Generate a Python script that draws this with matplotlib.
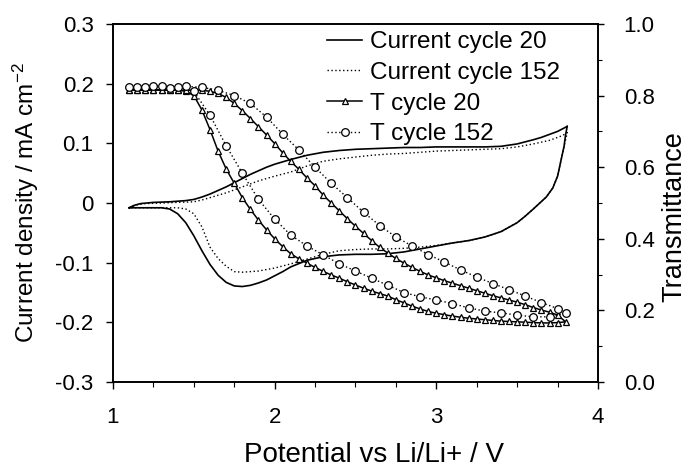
import matplotlib
matplotlib.use('Agg')
import matplotlib.pyplot as plt
from matplotlib.ticker import MultipleLocator, FixedLocator, FixedFormatter

plt.rcParams['font.family'] = ['Liberation Sans', 'DejaVu Sans']
plt.rcParams['axes.unicode_minus'] = False
plt.rcParams['mathtext.fontset'] = 'custom'
plt.rcParams['mathtext.rm'] = 'Liberation Sans'
plt.rcParams['mathtext.default'] = 'regular'

# ---------------- data ----------------
# Current density, cycle 20 (solid loop: anodic then cathodic)
cur20_v = [1.10, 1.13, 1.17, 1.25, 1.35, 1.45, 1.50, 1.55, 1.60, 1.65, 1.70, 1.75, 1.80, 1.85,
           1.90, 1.95, 2.00, 2.10, 2.20, 2.30, 2.40, 2.50, 2.60, 2.70, 2.80, 2.90, 3.00, 3.10,
           3.20, 3.30, 3.40, 3.50, 3.60, 3.65, 3.70, 3.75, 3.80, 3.81,
           3.80, 3.79, 3.77, 3.75, 3.72, 3.68, 3.64, 3.60, 3.55, 3.50, 3.40, 3.30, 3.20, 3.10,
           3.00, 2.90, 2.80, 2.70, 2.60, 2.50, 2.40, 2.30, 2.20, 2.10, 2.05, 2.00, 1.95, 1.90,
           1.85, 1.80, 1.75, 1.70, 1.65, 1.60, 1.55, 1.50, 1.45, 1.40, 1.35, 1.30, 1.20, 1.10]
cur20_i = [-0.008, -0.004, -0.001, 0.001, 0.002, 0.004, 0.006, 0.010, 0.015, 0.021, 0.027, 0.034, 0.041, 0.048,
           0.054, 0.060, 0.065, 0.073, 0.080, 0.085, 0.088, 0.090, 0.091, 0.092, 0.093, 0.093, 0.094, 0.094,
           0.094, 0.094, 0.095, 0.099, 0.106, 0.110, 0.115, 0.120, 0.127, 0.129,
           0.115, 0.095, 0.070, 0.045, 0.025, 0.010, 0.000, -0.010, -0.022, -0.033, -0.048, -0.057, -0.063, -0.067,
           -0.072, -0.077, -0.082, -0.085, -0.086, -0.086, -0.087, -0.090, -0.096, -0.107, -0.115, -0.122, -0.129, -0.134,
           -0.138, -0.140, -0.139, -0.133, -0.121, -0.103, -0.080, -0.055, -0.033, -0.018, -0.010, -0.008, -0.008, -0.008]

# Current density, cycle 152 (dotted loop)
cur152_v = [1.10, 1.15, 1.20, 1.30, 1.40, 1.50, 1.55, 1.60, 1.70, 1.80, 1.90, 2.00, 2.10, 2.20,
            2.30, 2.40, 2.50, 2.60, 2.70, 2.80, 2.90, 3.00, 3.10, 3.20, 3.30, 3.40, 3.50, 3.60,
            3.70, 3.78, 3.81,
            3.79, 3.77, 3.75, 3.72, 3.68, 3.64, 3.60, 3.55, 3.50, 3.40, 3.30, 3.20, 3.10, 3.00,
            2.90, 2.80, 2.70, 2.60, 2.50, 2.40, 2.30, 2.20, 2.10, 2.00, 1.90, 1.80, 1.75, 1.70,
            1.65, 1.60, 1.55, 1.50, 1.45, 1.40, 1.30, 1.20, 1.10]
cur152_i = [-0.008, -0.003, -0.001, 0.000, 0.001, 0.002, 0.005, 0.009, 0.017, 0.027, 0.037, 0.045, 0.052, 0.062,
            0.070, 0.074, 0.077, 0.080, 0.082, 0.083, 0.085, 0.087, 0.088, 0.089, 0.090, 0.091, 0.094, 0.099,
            0.105, 0.113, 0.118,
            0.095, 0.070, 0.045, 0.025, 0.010, 0.000, -0.010, -0.022, -0.033, -0.048, -0.057, -0.063, -0.067, -0.071,
            -0.074, -0.076, -0.077, -0.077, -0.078, -0.080, -0.086, -0.094, -0.102, -0.109, -0.114, -0.116, -0.115, -0.106,
            -0.093, -0.074, -0.040, -0.018, -0.010, -0.008, -0.008, -0.008, -0.008]

# Transmittance, cycle 20 (triangles)
t20_v = [1.10, 1.15, 1.20, 1.25, 1.30, 1.35, 1.40, 1.45, 1.50, 1.55, 1.60, 1.65, 1.70, 1.75,
         1.80, 1.85, 1.90, 1.95, 2.00, 2.05, 2.10, 2.15, 2.20, 2.25, 2.30, 2.35, 2.40, 2.45,
         2.50, 2.55, 2.60, 2.65, 2.70, 2.75, 2.80, 2.85, 2.90, 2.95, 3.00, 3.05, 3.10, 3.15,
         3.20, 3.25, 3.30, 3.35, 3.40, 3.45, 3.50, 3.55, 3.60, 3.65, 3.70, 3.75, 3.80,
         3.75, 3.70, 3.65, 3.60, 3.55, 3.50, 3.45, 3.40, 3.35, 3.30, 3.25, 3.20, 3.15, 3.10,
         3.05, 3.00, 2.95, 2.90, 2.85, 2.80, 2.75, 2.70, 2.65, 2.60, 2.55, 2.50, 2.45, 2.40,
         2.35, 2.30, 2.25, 2.20, 2.15, 2.10, 2.05, 2.00, 1.95, 1.90, 1.85, 1.80, 1.75, 1.70,
         1.65, 1.60, 1.55, 1.50, 1.45, 1.40, 1.35, 1.30, 1.25, 1.20, 1.15, 1.10]
t20_t = [0.815, 0.815, 0.815, 0.815, 0.815, 0.815, 0.815, 0.812, 0.800, 0.760, 0.705, 0.645, 0.595, 0.555,
         0.515, 0.482, 0.452, 0.425, 0.400, 0.378, 0.358, 0.344, 0.332, 0.320, 0.309, 0.299, 0.290, 0.280,
         0.271, 0.262, 0.254, 0.247, 0.240, 0.230, 0.221, 0.212, 0.204, 0.197, 0.192, 0.188, 0.184, 0.181,
         0.178, 0.176, 0.174, 0.172, 0.170, 0.169, 0.168, 0.167, 0.166, 0.165, 0.165, 0.166, 0.168,
         0.187, 0.195, 0.201, 0.208, 0.216, 0.223, 0.229, 0.235, 0.241, 0.248, 0.255, 0.262, 0.269, 0.276,
         0.283, 0.291, 0.299, 0.309, 0.320, 0.332, 0.345, 0.360, 0.376, 0.395, 0.415, 0.435, 0.456, 0.478,
         0.500, 0.522, 0.548, 0.570, 0.594, 0.616, 0.640, 0.666, 0.690, 0.713, 0.736, 0.758, 0.778, 0.795,
         0.806, 0.812, 0.815, 0.815, 0.815, 0.815, 0.815, 0.815, 0.815, 0.815, 0.815, 0.815]

# Transmittance, cycle 152 (circles)
t152_v = [1.10, 1.20, 1.30, 1.40, 1.50, 1.60, 1.70, 1.80, 1.90, 2.00, 2.10, 2.20, 2.30, 2.40,
          2.50, 2.60, 2.70, 2.80, 2.90, 3.00, 3.10, 3.20, 3.30, 3.40, 3.50, 3.60, 3.70, 3.80,
          3.75, 3.65, 3.55, 3.45, 3.35, 3.25, 3.15, 3.05, 2.95, 2.85, 2.75, 2.65, 2.55, 2.45,
          2.35, 2.25, 2.15, 2.05, 1.95, 1.85, 1.75, 1.65, 1.55, 1.45, 1.35, 1.25, 1.15]
t152_t = [0.825, 0.825, 0.828, 0.825, 0.812, 0.745, 0.660, 0.583, 0.510, 0.455, 0.410, 0.380, 0.355, 0.330,
          0.310, 0.290, 0.270, 0.250, 0.238, 0.229, 0.219, 0.207, 0.198, 0.193, 0.187, 0.182, 0.182, 0.193,
          0.205, 0.222, 0.240, 0.258, 0.275, 0.293, 0.313, 0.335, 0.356, 0.380, 0.405, 0.437, 0.474, 0.515,
          0.555, 0.600, 0.648, 0.692, 0.740, 0.778, 0.800, 0.815, 0.823, 0.826, 0.822, 0.826, 0.825]

labels = ['Current cycle 20', 'Current cycle 152', 'T cycle 20', 'T cycle 152']
x_ticks = [1, 2, 3, 4]
y_ticks = [-0.3, -0.2, -0.1, 0.0, 0.1, 0.2, 0.3]
y_ticklabels = ['-0.3', '-0.2', '-0.1', '0', '0.1', '0.2', '0.3']
t_ticks = [0.0, 0.2, 0.4, 0.6, 0.8, 1.0]
t_ticklabels = ['0.0', '0.2', '0.4', '0.6', '0.8', '1.0']

# ---------------- figure ----------------
W, H = 688, 468
fig = plt.figure(figsize=(W / 100, H / 100), dpi=100)
L, R, T, B = 113, 598, 24, 382
ax = fig.add_axes([L / W, 1 - B / H, (R - L) / W, (B - T) / H])
ax2 = ax.twinx()

dot = (0, (1.0, 1.8))
h1, = ax.plot(cur20_v, cur20_i, color='black', lw=1.2, label=labels[0])
h2, = ax.plot(cur152_v, cur152_i, color='black', lw=1.0, ls=dot, label=labels[1])
h3, = ax2.plot(t20_v, t20_t, color='black', lw=1.1, marker='^', ms=5, mfc='white',
               mec='black', mew=0.9, label=labels[2])
h4, = ax2.plot(t152_v, t152_t, color='black', lw=1.0, ls=dot, marker='o', ms=5.5,
               mfc='white', mec='black', mew=0.9, label=labels[3])

ax.set_xlim(1, 4)
ax.set_ylim(-0.3, 0.3)
ax2.set_ylim(0, 1)

fs_tick = 16
ax.xaxis.set_major_locator(FixedLocator(x_ticks))
ax.xaxis.set_major_formatter(FixedFormatter([str(v) for v in x_ticks]))
ax.xaxis.set_minor_locator(MultipleLocator(0.25))
ax.yaxis.set_major_locator(FixedLocator(y_ticks))
ax.yaxis.set_major_formatter(FixedFormatter(y_ticklabels))
ax2.yaxis.set_major_locator(FixedLocator(t_ticks))
ax2.yaxis.set_major_formatter(FixedFormatter(t_ticklabels))
ax2.yaxis.set_minor_locator(MultipleLocator(0.1))

ax.tick_params(axis='x', which='major', direction='out', length=5, width=1, pad=13, labelsize=fs_tick)
ax.tick_params(axis='x', which='minor', direction='out', length=3.5, width=0.8)
ax.tick_params(axis='y', which='major', direction='out', length=5, width=1, pad=9, labelsize=fs_tick)
ax2.tick_params(axis='y', which='major', direction='out', length=4.5, width=1, pad=14, labelsize=fs_tick)
ax2.tick_params(axis='y', which='minor', direction='out', length=3, width=0.8)

for a in (ax, ax2):
    for s in a.spines.values():
        s.set_linewidth(1.2)

fig.text(26 / W, 1 - 203 / H, 'Current density / mA cm$^{-2}$', rotation=90,
         ha='center', va='center', fontsize=17.5)
fig.text(674 / W, 1 - 217 / H, 'Transmittance', rotation=90,
         ha='center', va='center', fontsize=19.5)
fig.text(374 / W, 1 - 455 / H, 'Potential vs Li/Li+ / V',
         ha='center', va='center', fontsize=20)

leg = ax2.legend(handles=[h1, h2, h3, h4], loc='upper left',
                 bbox_to_anchor=(327 / W, 1 - 31 / H), bbox_transform=fig.transFigure,
                 frameon=False, fontsize=17.5, handlelength=1.45, handletextpad=0.3,
                 labelspacing=0.36, borderpad=0, borderaxespad=0, numpoints=1)

fig.savefig('out.png', dpi=100)
